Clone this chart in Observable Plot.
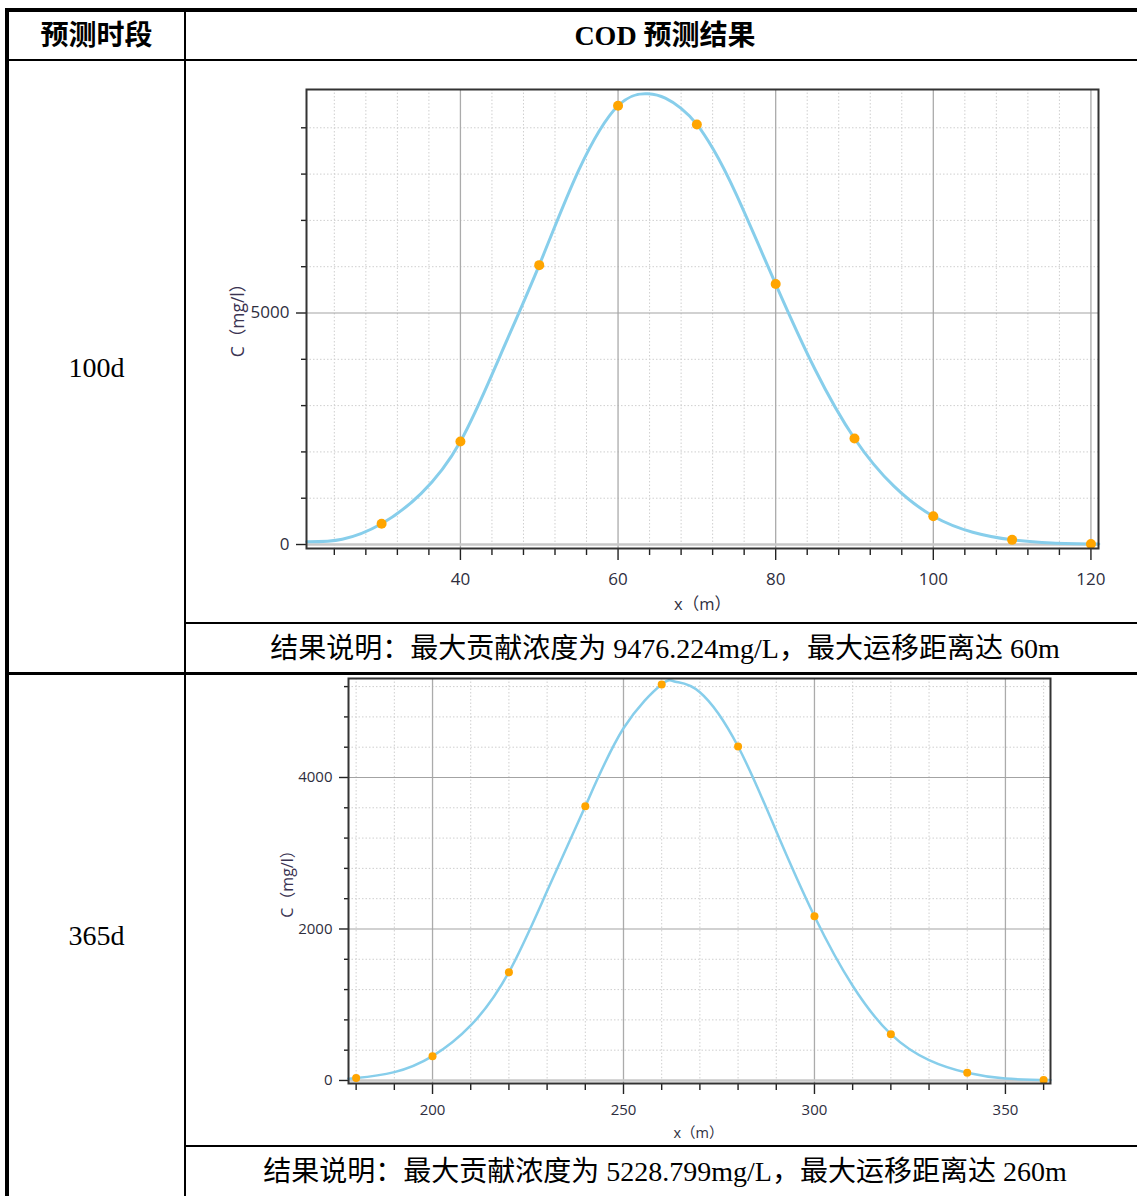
<!DOCTYPE html>
<html>
<head>
<meta charset="utf-8">
<script src="https://cdn.jsdelivr.net/npm/d3@7"></script>
<script src="https://cdn.jsdelivr.net/npm/@observablehq/plot@0.6"></script>
<style>
  html, body { margin: 0; padding: 0; background: #fff; }
  #page { position: relative; width: 1137px; height: 1196px; overflow: hidden; background: #fff;
          font-family: "Liberation Serif", "Noto Sans CJK SC", serif; color: #000; }
  .ln { position: absolute; background: #000; }
  .txt { position: absolute; transform: translate(-50%, -50%); white-space: nowrap; font-size: 28px; line-height: 1; }
  .bold { font-weight: bold; }
  .chart { position: absolute; }
</style>
</head>
<body>
<div id="page">
  <div class="ln" style="left:5px;top:8px;width:1132px;height:4px"></div>
  <div class="ln" style="left:5px;top:8px;width:4px;height:1188px"></div>
  <div class="ln" style="left:9px;top:59px;width:1128px;height:2px"></div>
  <div class="ln" style="left:184px;top:12px;width:2px;height:1184px"></div>
  <div class="ln" style="left:186px;top:622px;width:951px;height:2px"></div>
  <div class="ln" style="left:9px;top:672px;width:1128px;height:3px"></div>
  <div class="ln" style="left:186px;top:1145px;width:951px;height:2px"></div>

  <div class="txt bold" id="h1" style="left:96.5px;top:36px"></div>
  <div class="txt bold" id="h2" style="left:665px;top:36px"></div>
  <div class="txt" id="p1" style="left:96.5px;top:368px"></div>
  <div class="txt" id="p2" style="left:96.5px;top:936px"></div>
  <div class="txt" id="cap1" style="left:665px;top:649px"></div>
  <div class="txt" id="cap2" style="left:665px;top:1172px"></div>

  <div class="chart" id="chart1" style="left:186px;top:62px"></div>
  <div class="chart" id="chart2" style="left:186px;top:676px"></div>
</div>
<script>
// ---------- table texts ----------
const headers = ["预测时段", "COD 预测结果"];
const periods = ["100d", "365d"];
const captions = [
  "结果说明：最大贡献浓度为 9476.224mg/L，最大运移距离达 60m",
  "结果说明：最大贡献浓度为 5228.799mg/L，最大运移距离达 260m"
];
const yLabel = "C（mg/l）";
const xLabel = "x（m）";

// ---------- chart 1 (100d) ----------
const pts1X = [30, 40, 50, 60, 70, 80, 90, 100, 110, 120];
const pts1C = [450, 2225, 6034, 9476, 9073, 5625, 2290, 610, 101, 12];
const curve1X = [20.5, 25, 30, 35, 40, 45, 50, 55, 60, 63.8, 66, 68, 70, 72.1, 75, 80, 85, 90, 95, 100, 105, 110, 115, 121];
const curve1C = [60, 115, 450, 1100, 2225, 4060, 6034, 8080, 9476, 9735, 9640, 9420, 9073, 8530, 7560, 5625, 3780, 2290, 1260, 610, 266, 101, 34, 10];
const x1Major = [40, 60, 80, 100, 120];
const x1Minor = [24, 28, 32, 36, 44, 48, 52, 56, 64, 68, 72, 76, 84, 88, 92, 96, 104, 108, 112, 116];
const y1Major = [0, 5000];
const y1Minor = [1000, 2000, 3000, 4000, 6000, 7000, 8000, 9000];

// ---------- chart 2 (365d) ----------
const pts2X = [180, 200, 220, 240, 260, 280, 300, 320, 340, 360];
const pts2C = [32, 321, 1430, 3620, 5229, 4409, 2168, 611, 101, 5];
const curve2X = [178, 180, 190, 200, 210, 220, 230, 240, 250, 260, 263.6, 270, 280, 290, 300, 310, 320, 330, 340, 350, 361.8];
const curve2C = [25, 32, 110, 321, 726, 1430, 2500, 3620, 4650, 5229, 5264, 5125, 4409, 3290, 2168, 1250, 611, 268, 101, 25, 5];
const x2Major = [200, 250, 300, 350];
const x2Minor = [180, 190, 210, 220, 230, 240, 260, 270, 280, 290, 310, 320, 330, 340, 360];
const y2Major = [0, 2000, 4000];
const y2Minor = [400, 800, 1200, 1600, 2400, 2800, 3200, 3600, 4400, 4800, 5200];

document.getElementById("h1").textContent = headers[0];
document.getElementById("h2").textContent = headers[1];
document.getElementById("p1").textContent = periods[0];
document.getElementById("p2").textContent = periods[1];
document.getElementById("cap1").textContent = captions[0];
document.getElementById("cap2").textContent = captions[1];

function makeChart(cfg) {
  const curve = cfg.curveX.map((x, i) => ({x, c: cfg.curveC[i]}));
  const pts = cfg.ptsX.map((x, i) => ({x, c: cfg.ptsC[i]}));
  const tickColor = "#2e2e3e";
  return Plot.plot({
    width: cfg.width, height: cfg.height,
    marginLeft: cfg.ml, marginRight: cfg.mr, marginTop: cfg.mt, marginBottom: cfg.mb,
    x: {domain: cfg.xDomain, label: null},
    y: {domain: cfg.yDomain, label: null},
    style: {fontFamily: "'Open Sans','Noto Sans CJK SC',sans-serif", fontSize: cfg.fs + "px", color: tickColor, background: "white", overflow: "visible"},
    marks: [
      Plot.gridX(cfg.xMinor, {stroke: "#cfcfcf", strokeOpacity: 1, strokeDasharray: "1.5,2"}),
      Plot.gridY(cfg.yMinor, {stroke: "#cfcfcf", strokeOpacity: 1, strokeDasharray: "1.5,2"}),
      Plot.gridX(cfg.xMajor, {stroke: "#ababab", strokeOpacity: 1, strokeWidth: 1.3}),
      Plot.gridY(cfg.yMajor.filter(v => v !== 0), {stroke: "#a3a3a3", strokeOpacity: 1, strokeWidth: 1.2}),
      Plot.gridY([0], {stroke: "#c8c8c8", strokeOpacity: 1, strokeWidth: 2.5}),
      Plot.axisX(cfg.xMinor, {tickSize: cfg.xMinorLen, tickFormat: () => "", label: null, stroke: "#222", strokeWidth: 1.4}),
      Plot.axisX(cfg.xMajor, {tickSize: cfg.xMajorLen, tickPadding: cfg.xPad, label: null, stroke: "#222", strokeWidth: 1.4, fill: tickColor}),
      Plot.axisY(cfg.yMinor, {tickSize: cfg.yMinorLen, tickFormat: () => "", label: null, stroke: "#222", strokeWidth: 1.4}),
      Plot.axisY(cfg.yMajor, {tickSize: cfg.yMajorLen, tickPadding: cfg.yPad, label: null, stroke: "#222", strokeWidth: 1.4, fill: tickColor, tickFormat: d => String(d)}),
      Plot.line(curve, {x: "x", y: "c", stroke: "#87CEEB", strokeWidth: cfg.lw, curve: "natural"}),
      Plot.dot(pts, {x: "x", y: "c", fill: "#FFA500", r: cfg.r, stroke: "none"}),
      Plot.frame({stroke: "#333", strokeWidth: 2}),
      Plot.text([yLabel], {text: d => d, frameAnchor: "left", textAnchor: "middle", lineAnchor: "middle", dx: cfg.ylDx, dy: cfg.ylDy, rotate: -90, fontSize: cfg.lfs, fill: "#3a3352"}),
      Plot.text([xLabel], {text: d => d, frameAnchor: "bottom", textAnchor: "middle", lineAnchor: "middle", dx: cfg.xlDx, dy: cfg.xlDy, fontSize: cfg.lfs2, fill: "#2e2e3e"})
    ]
  });
}

document.getElementById("chart1").append(makeChart({
  width: 951, height: 560, ml: 120, mr: 39, mt: 27, mb: 74,
  xDomain: [20.47, 120.96], yDomain: [-86, 9827],
  curveX: curve1X, curveC: curve1C, ptsX: pts1X, ptsC: pts1C,
  xMajor: x1Major, xMinor: x1Minor, yMajor: y1Major, yMinor: y1Minor,
  xMinorLen: 7, xMajorLen: 12, xPad: 12, yMinorLen: 5, yMajorLen: 10, yPad: 7,
  fs: 17, lfs: 17.5, lfs2: 16.5, lw: 3, r: 5, ylDx: -68, ylDy: -3, xlDx: 0, xlDy: 56
}));

document.getElementById("chart2").append(makeChart({
  width: 951, height: 469, ml: 162, mr: 87, mt: 2, mb: 62,
  xDomain: [178, 361.8], yDomain: [-40, 5307],
  curveX: curve2X, curveC: curve2C, ptsX: pts2X, ptsC: pts2C,
  xMajor: x2Major, xMinor: x2Minor, yMajor: y2Major, yMinor: y2Minor,
  xMinorLen: 7, xMajorLen: 11, xPad: 10, yMinorLen: 4, yMajorLen: 9, yPad: 7,
  fs: 15, lfs: 16, lfs2: 14.5, lw: 2.5, r: 4, ylDx: -61, ylDy: -1, xlDx: -1, xlDy: 50
}));
</script>
</body>
</html>
